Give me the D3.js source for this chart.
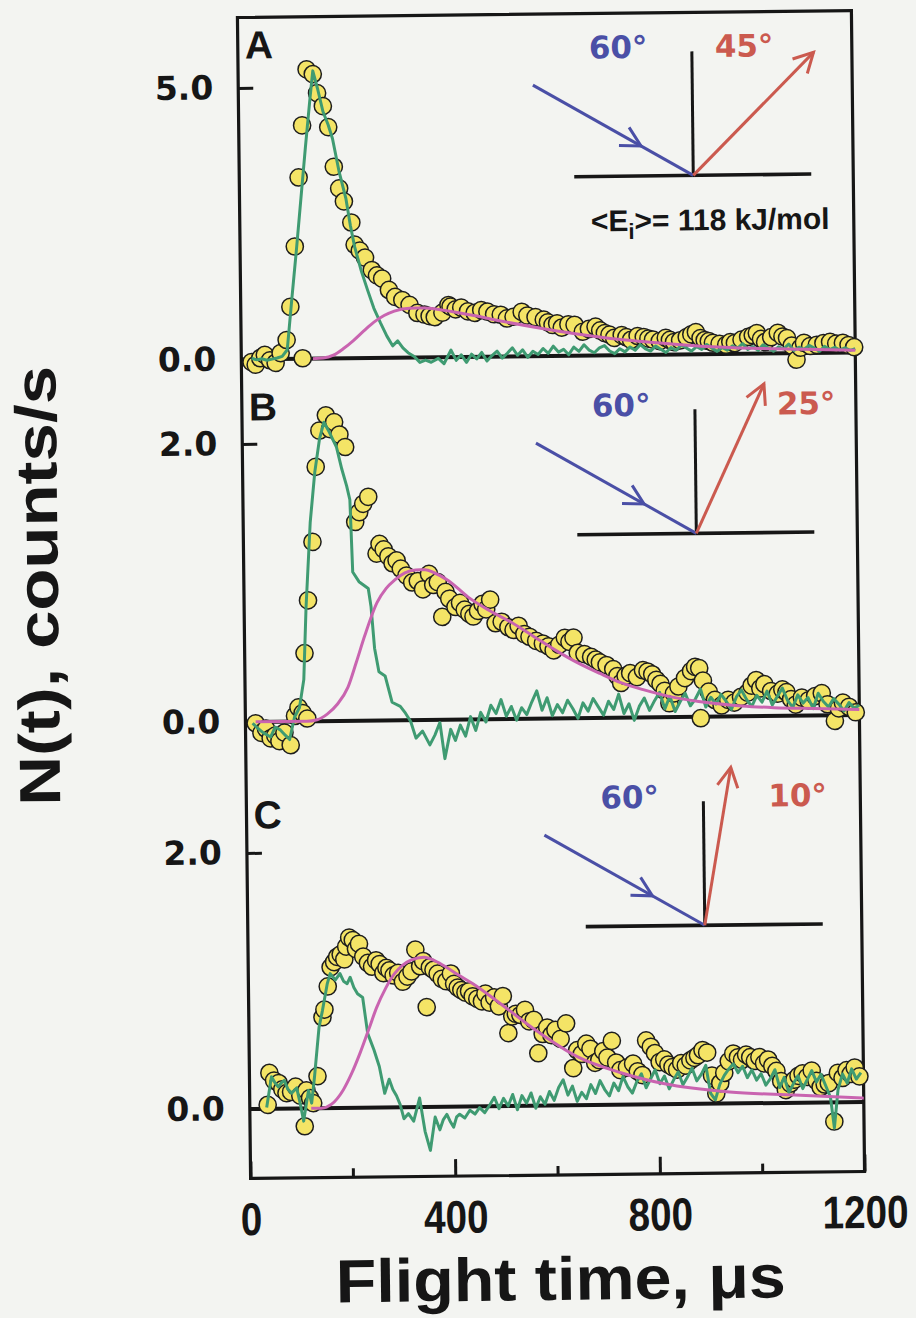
<!DOCTYPE html>
<html>
<head>
<meta charset="utf-8">
<script src="https://cdn.jsdelivr.net/npm/d3@7"></script>
<style>
  html, body { margin: 0; padding: 0; background: #f3f4f1; }
  svg { display: block; }
</style>
</head>
<body>
<svg id="chart" width="916" height="1318"></svg>
<script>
// ---- Time-of-flight data: [flight time (µs), N(t) (counts/s)] ----
// Panel A: exit angle 45°
const scatterA = [
  [20,-0.05],[28,-0.10],[37,0.02],[46,0.08],[56,-0.02],[67,-0.07],[77,0.11],[89,0.35],[97,0.96],[107,2.07],
  [116,3.34],[120,0.01],[124,4.30],[134,5.33],[146,5.24],[154,4.89],[165,4.65],[175,4.26],[185,3.53],[195,3.13],
  [204,2.89],[218,2.50],[224,2.09],[234,1.98],[244,1.85],[257,1.62],[267,1.52],[277,1.46],[290,1.25],[302,1.12],
  [316,1.06],[330,0.97],[345,0.82],[359,0.79],[369,0.76],[379,0.74],[394,0.82],[406,0.96],[410,0.93],[420,0.88],
  [431,0.91],[444,0.84],[457,0.81],[470,0.86],[482,0.83],[495,0.78],[508,0.77],[520,0.70],[533,0.73],[549,0.82],
  [560,0.75],[576,0.72],[592,0.67],[600,0.62],[609,0.57],[618,0.60],[627,0.52],[640,0.58],[652,0.57],[668,0.44],
  [680,0.49],[693,0.53],[702,0.46],[711,0.41],[720,0.38],[729,0.32],[744,0.37],[753,0.33],[762,0.28],[775,0.35],
  [787,0.33],[796,0.30],[805,0.28],[818,0.25],[830,0.31],[838,0.27],[846,0.23],[858,0.26],[871,0.32],[880,0.37],
  [889,0.41],[898,0.30],[906,0.26],[914,0.24],[922,0.21],[935,0.19],[948,0.17],[956,0.22],[965,0.20],[978,0.26],
  [991,0.31],[1000,0.34],[1008,0.38],[1016,0.27],[1024,0.21],[1036,0.30],[1049,0.38],[1058,0.31],[1067,0.28],[1076,0.14],
  [1085,-0.12],[1093,0.10],[1100,0.19],[1112,0.13],[1125,0.15],[1138,0.18],[1151,0.20],[1163,0.17],[1176,0.18],[1187,0.14],
  [1198,0.10]
];
const beamA = [
  [20,0.02],[30,-0.01],[40,0.01],[50,-0.02],[60,0.00],[70,0.02],[80,0.05],[90,0.17],[100,1.10],[110,2.00],
  [120,2.95],[130,3.90],[140,4.80],[146,5.30],[155,4.97],[165,4.55],[175,4.30],[183,4.05],[195,3.45],[208,2.94],
  [216,2.45],[224,2.05],[236,1.62],[248,1.26],[260,0.92],[273,0.64],[285,0.40],[296,0.22],[306,0.31],[316,0.18],
  [326,0.09],[338,0.02],[349,-0.09],[360,-0.05],[371,-0.09],[385,-0.02],[396,-0.12],[410,0.13],[420,-0.06],[430,0.04],
  [440,-0.10],[450,0.05],[460,-0.04],[470,0.08],[480,-0.08],[490,0.02],[500,0.10],[510,-0.03],[520,0.06],[530,0.16],
  [540,0.02],[550,0.12],[560,-0.02],[570,0.09],[580,0.03],[590,0.14],[600,0.05],[610,0.18],[620,0.07],[630,0.12],
  [640,0.02],[650,0.16],[660,0.08],[670,0.20],[680,0.10],[690,0.05],[700,0.14],[710,0.18],[720,0.08],[730,0.03],
  [740,0.12],[750,0.06],[760,0.15],[770,0.09],[780,0.19],[790,0.11],[800,0.07],[810,0.16],[820,0.10],[830,0.04],
  [840,0.13],[850,0.08],[860,0.17],[870,0.12],[880,0.06],[890,0.14],[900,0.09],[910,0.18],[920,0.11],[930,0.05],
  [940,0.12],[950,0.07],[960,0.15],[970,0.10],[980,0.19],[990,0.08],[1000,0.13],[1010,0.06],[1020,0.16],[1030,0.10],
  [1040,0.04],[1050,0.12],[1060,0.08],[1070,0.17],[1080,0.05],[1090,0.11],[1100,0.07],[1110,0.14],[1120,0.09],[1130,0.03],
  [1140,0.12],[1150,0.06],[1160,0.10],[1170,0.05],[1180,0.09],[1190,0.04],[1200,0.07]
];
const fitA = [
  [140,0.00],[160,0.01],[180,0.06],[200,0.18],[220,0.33],[240,0.50],[260,0.66],[280,0.78],[300,0.86],[330,0.91],
  [360,0.91],[400,0.86],[450,0.77],[500,0.67],[600,0.49],[700,0.34],[800,0.23],[900,0.15],[1000,0.10],[1100,0.07],
  [1200,0.04]
];

// Panel B: exit angle 25°
const scatterB = [
  [20,-0.01],[31,-0.08],[40,-0.05],[49,-0.12],[58,-0.10],[66,-0.14],[76,-0.08],[88,-0.17],[97,0.04],[104,0.10],
  [112,0.06],[117,0.49],[121,0.02],[125,0.87],[135,1.29],[143,1.83],[151,2.09],[164,2.20],[172,2.10],[180,2.15],
  [190,2.06],[201,1.97],[219,1.43],[227,1.50],[235,1.56],[245,1.61],[260,1.20],[266,1.27],[274,1.23],[283,1.18],
  [291,1.13],[299,1.15],[307,1.09],[318,1.04],[329,0.99],[340,1.00],[350,0.94],[362,1.05],[370,0.97],[379,0.99],
  [387,0.74],[394,0.92],[401,0.87],[413,0.81],[422,0.84],[431,0.79],[440,0.76],[448,0.74],[457,0.78],[466,0.83],
  [473,0.79],[481,0.86],[491,0.69],[503,0.70],[516,0.66],[526,0.64],[536,0.67],[547,0.61],[557,0.59],[570,0.56],
  [583,0.54],[594,0.52],[604,0.49],[615,0.53],[626,0.58],[635,0.55],[643,0.58],[651,0.47],[664,0.46],[677,0.44],
  [686,0.42],[694,0.40],[707,0.38],[720,0.35],[728,0.30],[735,0.25],[744,0.30],[753,0.32],[766,0.29],[778,0.34],
  [787,0.33],[796,0.31],[804,0.27],[812,0.24],[820,0.19],[829,0.10],[838,0.17],[847,0.22],[860,0.28],[872,0.33],
  [880,0.36],[888,0.35],[890,-0.01],[895,0.26],[906,0.18],[918,0.12],[931,0.08],[944,0.12],[956,0.10],[969,0.14],
  [982,0.17],[990,0.22],[999,0.26],[1007,0.20],[1015,0.23],[1028,0.18],[1041,0.16],[1050,0.19],[1058,0.17],[1067,0.12],
  [1076,0.08],[1088,0.13],[1101,0.11],[1114,0.14],[1127,0.16],[1138,0.08],[1152,-0.04],[1160,0.05],[1168,0.09],[1180,0.06],
  [1193,0.02]
];
const beamB = [
  [14,-0.01],[25,-0.05],[35,-0.08],[49,-0.11],[58,-0.04],[68,-0.06],[78,-0.10],[86,-0.13],[96,0.03],[106,0.10],
  [115,0.30],[121,0.82],[131,1.43],[141,1.79],[151,2.03],[160,2.15],[170,2.08],[184,1.97],[194,1.81],[203,1.69],
  [209,1.59],[213,1.07],[225,1.00],[243,0.95],[248,0.82],[254,0.52],[262,0.35],[274,0.32],[287,0.13],[303,0.10],
  [313,0.05],[323,-0.01],[333,-0.13],[346,-0.08],[360,-0.18],[370,-0.11],[380,-0.02],[389,-0.28],[401,-0.07],[410,-0.15],
  [420,-0.04],[430,-0.12],[440,0.02],[450,-0.08],[460,0.05],[470,-0.02],[480,0.10],[490,0.04],[500,0.14],[510,0.02],
  [520,0.09],[530,-0.01],[540,0.08],[550,0.03],[560,0.12],[570,0.20],[580,0.06],[590,0.15],[600,0.02],[610,0.10],
  [620,0.04],[630,0.13],[640,0.07],[650,0.00],[660,0.11],[670,0.05],[680,0.14],[690,0.08],[700,0.02],[710,0.12],
  [720,0.06],[730,0.17],[740,0.03],[750,0.10],[760,-0.02],[770,0.08],[780,0.14],[790,0.05],[800,0.12],[810,0.18],
  [820,0.06],[830,0.15],[840,0.04],[850,0.11],[860,0.17],[870,0.08],[880,0.13],[890,0.20],[900,0.07],[910,0.14],
  [920,0.09],[930,0.16],[940,0.11],[950,0.05],[960,0.14],[970,0.19],[980,0.12],[990,0.07],[1000,0.15],[1010,0.10],
  [1020,0.18],[1030,0.08],[1040,0.14],[1050,0.20],[1060,0.11],[1070,0.06],[1080,0.15],[1090,0.09],[1100,0.13],[1110,0.05],
  [1120,0.16],[1130,0.10],[1140,0.06],[1150,0.12],[1160,0.08],[1170,0.03],[1180,0.09],[1190,0.05],[1200,0.07]
];
const fitB = [
  [20,0.00],[120,0.00],[140,0.01],[160,0.05],[180,0.12],[201,0.24],[218,0.42],[235,0.61],[260,0.85],[278,0.95],
  [295,1.01],[315,1.06],[336,1.08],[355,1.08],[371,1.06],[400,1.00],[438,0.88],[480,0.78],[524,0.69],[566,0.59],
  [608,0.49],[650,0.40],[694,0.32],[736,0.25],[778,0.20],[840,0.14],[906,0.10],[970,0.075],[1033,0.06],[1110,0.05],
  [1200,0.04]
];

// Panel C: exit angle 10°
const scatterC = [
  [35,0.03],[39,0.28],[48,0.22],[57,0.20],[64,0.15],[72,0.12],[81,0.13],[90,0.17],[99,0.10],[107,-0.14],
  [111,0.14],[118,0.08],[124,0.04],[133,0.25],[144,0.71],[148,0.77],[155,0.95],[161,1.10],[168,1.14],[174,1.18],
  [181,1.20],[188,1.16],[192,1.26],[198,1.33],[205,1.31],[211,1.24],[217,1.28],[225,1.18],[234,1.13],[242,1.10],
  [250,1.15],[257,1.12],[264,1.05],[270,1.09],[276,1.07],[284,1.03],[293,1.05],[302,0.98],[311,1.02],[319,1.06],
  [327,1.23],[336,1.10],[342,1.14],[348,0.78],[355,1.09],[362,1.07],[370,1.04],[378,1.00],[387,0.98],[396,1.04],
  [402,0.96],[409,0.93],[416,0.91],[424,0.89],[431,0.90],[438,0.86],[447,0.84],[456,0.82],[463,0.88],[471,0.81],
  [480,0.85],[489,0.78],[497,0.86],[507,0.57],[515,0.70],[522,0.72],[531,0.71],[540,0.75],[548,0.66],[557,0.67],
  [565,0.41],[574,0.56],[583,0.61],[591,0.55],[599,0.59],[609,0.52],[620,0.64],[633,0.29],[641,0.43],[650,0.40],
  [659,0.48],[667,0.44],[676,0.33],[684,0.35],[692,0.42],[700,0.37],[709,0.50],[717,0.33],[725,0.27],[738,0.29],
  [750,0.32],[759,0.26],[768,0.23],[776,0.50],[785,0.45],[793,0.40],[802,0.33],[811,0.35],[819,0.31],[827,0.29],
  [836,0.27],[844,0.32],[853,0.30],[862,0.34],[870,0.36],[877,0.38],[886,0.42],[895,0.40],[904,0.22],[912,0.08],
  [920,0.16],[928,0.24],[937,0.33],[946,0.39],[955,0.36],[963,0.34],[971,0.38],[979,0.36],[988,0.33],[997,0.36],
  [1006,0.31],[1014,0.34],[1022,0.29],[1030,0.25],[1039,0.17],[1048,0.10],[1057,0.15],[1065,0.18],[1073,0.21],[1081,0.23],
  [1090,0.20],[1099,0.25],[1108,0.17],[1116,0.12],[1124,0.14],[1132,0.15],[1142,-0.15],[1150,0.23],[1159,0.19],[1167,0.25],
  [1175,0.22],[1183,0.27],[1192,0.20]
];
const beamC = [
  [33,0.01],[43,0.25],[50,0.20],[56,0.17],[62,0.20],[68,0.22],[75,0.15],[82,0.12],[92,0.16],[98,0.05],
  [105,-0.10],[115,0.14],[121,0.04],[127,0.24],[137,0.63],[144,0.76],[154,0.97],[160,1.05],[170,1.00],[179,1.05],
  [186,0.99],[193,0.97],[199,1.02],[206,0.94],[213,0.89],[223,0.86],[232,0.58],[244,0.45],[254,0.32],[264,0.11],
  [273,0.22],[280,0.14],[287,0.09],[294,0.02],[301,-0.09],[310,-0.05],[320,-0.11],[326,-0.02],[332,0.07],[342,-0.19],
  [352,-0.34],[362,-0.08],[371,-0.18],[378,-0.10],[385,-0.06],[392,-0.12],[398,-0.16],[404,-0.08],[410,-0.06],[420,-0.09],
  [430,-0.03],[440,-0.06],[449,-0.01],[459,-0.05],[469,0.01],[478,0.07],[487,-0.02],[496,0.06],[505,0.00],[514,0.09],
  [523,-0.03],[532,0.08],[541,0.02],[550,0.10],[559,-0.02],[568,0.07],[577,0.01],[586,0.11],[595,0.04],[604,0.14],
  [613,0.20],[622,0.08],[631,0.15],[640,0.03],[649,0.10],[658,0.05],[667,0.16],[676,0.09],[685,0.19],[694,0.12],
  [703,0.07],[712,0.17],[721,0.11],[730,0.22],[739,0.14],[748,0.09],[757,0.18],[766,0.24],[775,0.13],[784,0.20],
  [793,0.27],[802,0.16],[811,0.22],[820,0.12],[829,0.19],[838,0.25],[847,0.15],[856,0.21],[865,0.28],[874,0.18],
  [883,0.23],[892,0.30],[901,0.08],[910,0.03],[919,0.15],[928,0.22],[937,0.27],[946,0.31],[955,0.24],[964,0.29],
  [973,0.20],[982,0.26],[991,0.18],[1000,0.23],[1009,0.14],[1018,0.19],[1027,0.26],[1036,0.12],[1045,0.20],[1054,0.08],
  [1063,0.15],[1072,0.21],[1081,0.11],[1090,0.18],[1099,0.25],[1108,0.16],[1117,0.22],[1126,0.13],[1135,0.04],[1142,-0.20],
  [1150,0.10],[1159,0.22],[1168,0.15],[1177,0.26],[1186,0.18],[1195,0.23]
];
const fitC = [
  [120,0.00],[140,0.00],[160,0.03],[183,0.14],[200,0.27],[217,0.43],[235,0.62],[250,0.78],[268,0.93],[285,1.04],
  [302,1.11],[319,1.15],[344,1.17],[365,1.14],[387,1.09],[410,1.03],[438,0.96],[489,0.81],[557,0.60],[641,0.38],
  [726,0.25],[811,0.16],[938,0.09],[1065,0.06],[1200,0.03]
];

// Axis ticks and labels
const panelLetters = ["A", "B", "C"];
const yTicksA = [0, 5];
const yTicksB = [0, 2];
const yTicksC = [0, 2];
const xTicks = [0, 200, 400, 600, 800, 1000, 1200];
const xTickLabels = [0, 400, 800, 1200];

// Scattering geometry shown in each panel
const incidentAngle = 60;
const exitAngles = [45, 25, 10];
const beamEnergyLabel = "118 kJ/mol";

// ---- Layout ----
const W = 916, H = 1318;
const frame = { left: 244, right: 858, top: 14, bottom: 1175 };
const colors = {
  fill: "#f4e466", edge: "#1d1d1d", beam: "#3f9b72", fit: "#c964b0",
  incident: "#4a4fa6", exit: "#cb5a4f", ink: "#161616"
};

const svg = d3.select("#chart");
svg.append("rect").attr("width", W).attr("height", H).attr("fill", "#f3f4f1");

// the whole figure sits at a slight tilt
const root = svg.append("g").attr("transform", "rotate(-0.65 551 594)");

const x = d3.scaleLinear().domain([0, 1200]).range([frame.left, frame.right]);

const panels = [
  { letter: panelLetters[0], y: d3.scaleLinear().domain([0, 5]).range([356, 84.5]), ticks: yTicksA,
    scatter: scatterA, beam: beamA, fit: fitA, exit: exitAngles[0], labelY: 55,
    inset: { x: 698, y: 177, outLen: 172, exitDx: 23, energy: true } },
  { letter: panelLetters[1], y: d3.scaleLinear().domain([0, 2]).range([718.5, 440.5]), ticks: yTicksB,
    scatter: scatterB, beam: beamB, fit: fitB, exit: exitAngles[1], labelY: 417,
    inset: { x: 697, y: 535, outLen: 164, exitDx: 82, energy: false } },
  { letter: panelLetters[2], y: d3.scaleLinear().domain([0, 2]).range([1105.5, 849.5]), ticks: yTicksC,
    scatter: scatterC, beam: beamC, fit: fitC, exit: exitAngles[2], labelY: 825,
    inset: { x: 701, y: 927, outLen: 160, exitDx: 65, energy: false } }
];

// frame
root.append("rect")
  .attr("x", frame.left).attr("y", frame.top)
  .attr("width", frame.right - frame.left).attr("height", frame.bottom - frame.top)
  .attr("fill", "none").attr("stroke", colors.ink).attr("stroke-width", 3.2);

// bottom axis: inward ticks, long at labelled values
const xAxis = d3.axisBottom(x).tickValues(xTicks).tickSize(-17).tickPadding(24)
  .tickFormat(d => xTickLabels.includes(d) ? String(d) : "");
const gx = root.append("g").attr("transform", `translate(0,${frame.bottom})`).call(xAxis);
gx.select(".domain").remove();
gx.selectAll(".tick line")
  .attr("y2", d => xTickLabels.includes(d) ? -17 : -9)
  .attr("stroke", colors.ink).attr("stroke-width", 3);
gx.selectAll(".tick text")
  .attr("fill", colors.ink)
  .attr("font-family", "'Liberation Sans', Arial, sans-serif")
  .attr("font-weight", "bold").attr("font-size", 46)
  .attr("transform", "scale(0.84,1)");

root.append("text")
  .attr("x", 553).attr("y", 1300)
  .attr("text-anchor", "middle")
  .attr("font-family", "'Liberation Sans', Arial, sans-serif")
  .attr("font-weight", "bold").attr("font-size", 61)
  .attr("textLength", 450).attr("lengthAdjust", "spacingAndGlyphs")
  .attr("fill", colors.ink)
  .text("Flight time, μs");

root.append("text")
  .attr("transform", "translate(58,580) rotate(-90)")
  .attr("text-anchor", "middle")
  .attr("font-family", "'Liberation Sans', Arial, sans-serif")
  .attr("font-weight", "bold").attr("font-size", 58)
  .attr("textLength", 440).attr("lengthAdjust", "spacingAndGlyphs")
  .attr("fill", colors.ink)
  .text("N(t), counts/s");

const fmt = d3.format(".1f");

panels.forEach(p => {
  const g = root.append("g");

  // left axis for this panel
  const ya = d3.axisLeft(p.y).tickValues(p.ticks).tickSize(-15).tickPadding(25).tickFormat(fmt);
  const gy = g.append("g").attr("transform", `translate(${frame.left},0)`).call(ya);
  gy.select(".domain").remove();
  gy.selectAll(".tick line").attr("stroke", colors.ink).attr("stroke-width", 3);
  gy.selectAll(".tick text")
    .attr("fill", colors.ink)
    .attr("font-family", "'DejaVu Sans', sans-serif")
    .attr("font-weight", "bold").attr("font-size", 33);

  // zero line
  g.append("line")
    .attr("x1", frame.left).attr("x2", frame.right)
    .attr("y1", p.y(0)).attr("y2", p.y(0))
    .attr("stroke", colors.ink).attr("stroke-width", 4);

  // measured points
  g.append("g").selectAll("circle").data(p.scatter).join("circle")
    .attr("cx", d => x(d[0])).attr("cy", d => p.y(d[1])).attr("r", 8.6)
    .attr("fill", colors.fill).attr("stroke", colors.edge).attr("stroke-width", 1.5);

  // incident beam profile
  g.append("path").datum(p.beam)
    .attr("d", d3.line().x(d => x(d[0])).y(d => p.y(d[1])))
    .attr("fill", "none").attr("stroke", colors.beam).attr("stroke-width", 3)
    .attr("stroke-linejoin", "round");

  // fitted distribution
  g.append("path").datum(p.fit)
    .attr("d", d3.line().curve(d3.curveMonotoneX).x(d => x(d[0])).y(d => p.y(d[1])))
    .attr("fill", "none").attr("stroke", colors.fit).attr("stroke-width", 3);

  // panel letter
  g.append("text")
    .attr("x", 251).attr("y", p.labelY)
    .attr("font-family", "'Liberation Sans', Arial, sans-serif")
    .attr("font-weight", "bold").attr("font-size", 39)
    .attr("fill", colors.ink)
    .text(p.letter);

  drawInset(g, p.inset, p.exit);
});

function drawInset(sel, o, exitDeg) {
  const gi = sel.append("g").attr("transform", `translate(${o.x},${o.y})`);
  const surfL = 119, surfR = 118, normalH = 124, inLen = 184;
  const headLen = 22, headHalf = 28 * Math.PI / 180;

  gi.append("line").attr("x1", -surfL).attr("x2", surfR).attr("y1", 0).attr("y2", 0)
    .attr("stroke", colors.ink).attr("stroke-width", 3.6);
  gi.append("line").attr("x1", 0).attr("x2", 0).attr("y1", 0).attr("y2", -normalH)
    .attr("stroke", colors.ink).attr("stroke-width", 3);

  const barbs = (tx, ty, ux, uy) => {
    // open V head at (tx,ty) pointing along (ux,uy)
    const pts = [-1, 1].map(s => {
      const c = Math.cos(s * headHalf), sn = Math.sin(s * headHalf);
      const bx = -(ux * c - uy * sn), by = -(ux * sn + uy * c);
      return [tx + bx * headLen, ty + by * headLen];
    });
    return `M${pts[0][0]},${pts[0][1]}L${tx},${ty}L${pts[1][0]},${pts[1][1]}`;
  };

  // incoming beam
  const a = incidentAngle * Math.PI / 180;
  const ux = Math.sin(a), uy = Math.cos(a);
  gi.append("line").attr("x1", -inLen * ux).attr("y1", -inLen * uy).attr("x2", 0).attr("y2", 0)
    .attr("stroke", colors.incident).attr("stroke-width", 3);
  const headAt = 60;
  gi.append("path").attr("d", barbs(-headAt * ux, -headAt * uy, ux, uy))
    .attr("fill", "none").attr("stroke", colors.incident).attr("stroke-width", 3)
    .attr("stroke-linejoin", "miter");

  // scattered beam
  const b = exitDeg * Math.PI / 180;
  const vx = Math.sin(b), vy = -Math.cos(b);
  const ex = o.outLen * vx, ey = o.outLen * vy;
  gi.append("line").attr("x1", 0).attr("y1", 0).attr("x2", ex).attr("y2", ey)
    .attr("stroke", colors.exit).attr("stroke-width", 3);
  gi.append("path").attr("d", barbs(ex, ey, vx, vy))
    .attr("fill", "none").attr("stroke", colors.exit).attr("stroke-width", 3);

  const angleFont = "'DejaVu Sans', sans-serif";
  gi.append("text").attr("x", -103).attr("y", -118)
    .attr("font-family", angleFont).attr("font-weight", "bold").attr("font-size", 31)
    .attr("fill", colors.incident).text(incidentAngle + "°");
  gi.append("text").attr("x", o.exitDx).attr("y", -118)
    .attr("font-family", angleFont).attr("font-weight", "bold").attr("font-size", 31)
    .attr("fill", colors.exit).text(exitDeg + "°");

  if (o.energy) {
    const t = gi.append("text").attr("x", -103).attr("y", 55)
      .attr("font-family", "'Liberation Sans', Arial, sans-serif")
      .attr("font-weight", "bold").attr("font-size", 30).attr("fill", colors.ink);
    t.append("tspan").text("<E");
    t.append("tspan").attr("font-size", 22).attr("dy", 8).text("i");
    t.append("tspan").attr("dy", -8).text(">= " + beamEnergyLabel);
  }
}
</script>
</body>
</html>
